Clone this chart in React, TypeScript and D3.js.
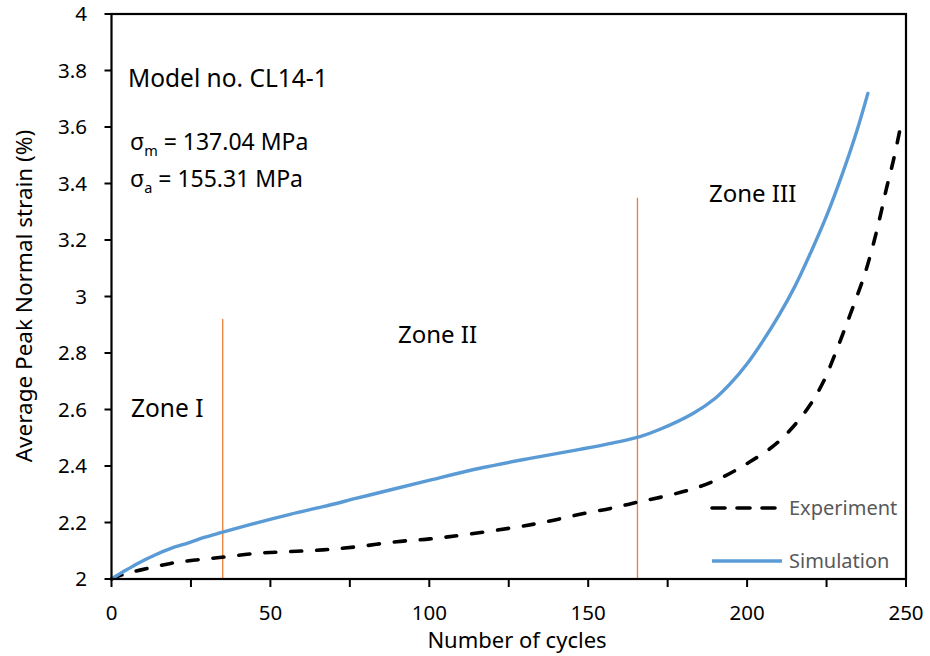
import React from "react";
import * as d3 from "d3";

// simulated peak normal strain (%)
const simCycles = [0, 4.2, 8.4, 13.7, 18.9, 24.2, 29.4, 34.7, 45.7, 56.2, 66.6, 77.2, 87.6, 100.2, 115.9, 131.7, 147.4, 157.9, 166.3, 172.6, 183.1, 190, 195, 200, 205, 210, 215, 220, 225, 230, 234.5, 238];
const simStrain = [2.0, 2.029, 2.056, 2.085, 2.109, 2.128, 2.148, 2.165, 2.199, 2.229, 2.256, 2.286, 2.315, 2.35, 2.392, 2.427, 2.459, 2.482, 2.504, 2.53, 2.587, 2.64, 2.695, 2.762, 2.843, 2.933, 3.035, 3.155, 3.285, 3.435, 3.585, 3.719];

// experiment, dashed black curve
const expCycles = [0, 4.2, 11.6, 18.9, 26.3, 34.7, 45.7, 56.2, 66.5, 77.2, 89.7, 100.2, 110.7, 126.5, 137, 147.4, 157.9, 166.3, 175.7, 185.1, 193.6, 200.9, 208.3, 214.5, 219.8, 224, 228.2, 231.4, 234.5, 237.1, 239.6, 241.8, 243.8, 246, 248];
const expStrain = [2.0, 2.018, 2.038, 2.056, 2.067, 2.077, 2.091, 2.097, 2.103, 2.114, 2.132, 2.142, 2.156, 2.182, 2.203, 2.229, 2.252, 2.274, 2.297, 2.327, 2.368, 2.415, 2.471, 2.539, 2.616, 2.698, 2.811, 2.905, 2.999, 3.082, 3.18, 3.28, 3.38, 3.48, 3.585];

// zone boundaries (cycle, top of the marker line)
const zoneCycles = [35, 165.5];
const zoneTops = [2.92, 3.35];

const xTicks = [0, 25, 50, 75, 100, 125, 150, 175, 200, 225, 250];
const xLabels = [0, 50, 100, 150, 200, 250];
const yTicks = [2, 2.2, 2.4, 2.6, 2.8, 3, 3.2, 3.4, 3.6, 3.8, 4];

const W = 930;
const H = 656;
const font = "'Noto Sans', sans-serif";
const blue = "#5B9BD5";
const orange = "#ED7D31";

const x = d3.scaleLinear().domain([0, 250]).range([111.5, 906]);
const y = d3.scaleLinear().domain([2, 4]).range([579, 14]);

const line = d3
  .line<[number, number]>()
  .x((d) => x(d[0]))
  .y((d) => y(d[1]))
  .curve(d3.curveCatmullRom.alpha(0.5));

const simPts = simCycles.map((c, i) => [c, simStrain[i]] as [number, number]);
const expPts = expCycles.map((c, i) => [c, expStrain[i]] as [number, number]);

const App = () => {
  const [x0, x1] = x.range();
  const [y0, y1] = y.range();
  return (
    <svg
      width={W}
      height={H}
      style={{ position: "absolute", left: 0, top: 0, background: "#fff" }}
      fontFamily={font}
    >
      {/* zone boundary markers */}
      {zoneCycles.map((c, i) => (
        <line
          key={c}
          x1={x(c)}
          x2={x(c)}
          y1={y(2)}
          y2={y(zoneTops[i])}
          stroke={orange}
          strokeWidth={1.3}
        />
      ))}

      <path d={line(expPts) || ""} fill="none" stroke="#000" strokeWidth={3.6} strokeDasharray="11 15" strokeLinecap="round" />
      <path d={line(simPts) || ""} fill="none" stroke={blue} strokeWidth={3.4} strokeLinecap="round" />

      {/* frame */}
      <rect x={x0} y={y1} width={x1 - x0} height={y0 - y1} fill="none" stroke="#000" strokeWidth={2.2} />

      {xTicks.map((t) => (
        <line key={t} x1={x(t)} x2={x(t)} y1={y0} y2={y0 + 8} stroke="#000" strokeWidth={2} />
      ))}
      {xLabels.map((t) => (
        <text key={t} x={x(t)} y={620} textAnchor="middle" fontSize={20.5}>
          {t}
        </text>
      ))}
      {yTicks.map((t) => (
        <g key={t}>
          <line x1={x0 - 7} x2={x0} y1={y(t)} y2={y(t)} stroke="#000" strokeWidth={2} />
          <text x={87} y={y(t)} dy="0.36em" textAnchor="end" fontSize={20.5}>
            {d3.format("~g")(t)}
          </text>
        </g>
      ))}

      <text x={517} y={648} textAnchor="middle" fontSize={22}>
        Number of cycles
      </text>
      <text transform="translate(32,296) rotate(-90)" textAnchor="middle" fontSize={22.5}>
        Average Peak Normal strain (%)
      </text>

      {/* annotations */}
      <text x={128} y={87} fontSize={24.5}>Model no. CL14-1</text>
      <text x={130} y={150} fontSize={23}>
        σ<tspan fontSize={14.5} dy={6}>m</tspan>
        <tspan dy={-6}> = 137.04 MPa</tspan>
      </text>
      <text x={130} y={187} fontSize={23}>
        σ<tspan fontSize={14.5} dy={6}>a</tspan>
        <tspan dy={-6}> = 155.31 MPa</tspan>
      </text>
      <text x={131} y={417} fontSize={24.5}>Zone I</text>
      <text x={398} y={343} fontSize={24}>Zone II</text>
      <text x={709} y={202} fontSize={24}>Zone III</text>

      {/* legend */}
      <line x1={712} x2={782} y1={508} y2={508} stroke="#000" strokeWidth={3.6} strokeDasharray="13 12" strokeLinecap="round" />
      <text x={789} y={515} fontSize={20} fill="#595959">Experiment</text>
      <line x1={712} x2={782} y1={561} y2={561} stroke={blue} strokeWidth={3.4} />
      <text x={789} y={568} fontSize={20} fill="#595959">Simulation</text>
    </svg>
  );
};

export default App;
